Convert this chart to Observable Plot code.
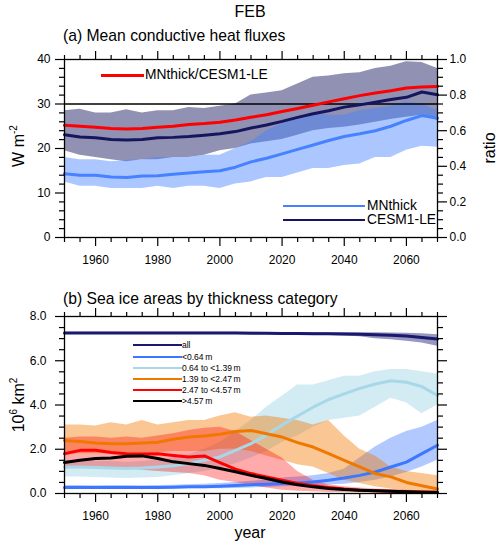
<!DOCTYPE html>
<html><head><meta charset="utf-8">
<script src="https://cdn.jsdelivr.net/npm/d3@7"></script>
<script src="https://cdn.jsdelivr.net/npm/@observablehq/plot@0.6"></script>
<style>
body{margin:0;background:#fff;font-family:"Liberation Sans",Arial,Helvetica,sans-serif;}
#page{position:relative;width:500px;height:549px;overflow:hidden;background:#fff;}
.t{position:absolute;white-space:nowrap;color:#000;line-height:1;}
#page svg{position:absolute;left:0;}
.sw{position:absolute;}
</style></head><body><div id="page"></div>
<script>
// ---------------- data ----------------
const years = [1950,1955,1960,1965,1970,1975,1980,1985,1990,1995,2000,2005,2010,2015,2020,2025,2030,2035,2040,2045,2050,2055,2060,2065,2070];

// panel (a): W m-2
const mnMean = [14.3,14.0,14.0,13.6,13.5,13.8,13.9,14.2,14.5,14.8,15.0,15.8,17.0,17.8,18.8,19.8,20.8,21.8,22.7,23.3,24.0,25.0,26.3,27.4,26.8];
const mnLo   = [12.5,11.5,11.5,11.0,11.0,11.0,11.5,11.0,11.5,11.5,11.0,12.0,12.5,13.5,13.5,14.5,15.5,15.5,16.2,16.5,18.0,18.0,19.6,20.5,20.3];
const mnHi   = [18.0,17.5,17.5,17.0,17.3,17.5,18.0,18.0,18.0,18.5,18.5,20.0,21.5,24.0,25.5,27.0,28.0,27.5,27.5,28.5,29.0,29.5,30.5,30.0,28.5];
const ceMean = [23.1,22.6,22.4,22.0,21.9,22.0,22.4,22.5,22.7,23.0,23.3,23.8,24.6,25.3,26.1,27.0,27.8,28.5,29.3,29.8,30.4,31.0,31.5,32.7,32.1];
const ceLo   = [19.5,18.5,18.0,17.5,17.0,17.5,17.5,18.0,18.0,18.5,19.5,20.0,21.0,21.5,22.0,23.0,24.0,24.5,24.8,25.3,25.9,26.5,27.0,27.5,26.3];
const ceHi   = [28.5,28.8,28.0,28.0,28.7,28.0,28.5,28.5,29.2,29.0,29.5,30.0,32.0,32.5,33.0,34.5,36.0,36.3,36.8,37.0,38.0,38.5,39.5,39.3,38.0];
// ratio MNthick/CESM1-LE (right axis)
const ratio  = [0.63,0.625,0.62,0.613,0.61,0.612,0.62,0.625,0.635,0.64,0.648,0.66,0.675,0.69,0.708,0.725,0.743,0.762,0.78,0.797,0.812,0.825,0.84,0.845,0.848];
const ratioRef = [0.75];

// panel (b): 10^6 km2
const allMean = [7.25,7.25,7.25,7.25,7.25,7.25,7.25,7.25,7.25,7.25,7.25,7.25,7.24,7.24,7.23,7.23,7.22,7.22,7.21,7.2,7.18,7.15,7.12,7.05,6.98];
const allLo   = [7.2,7.2,7.2,7.2,7.2,7.2,7.2,7.2,7.2,7.2,7.2,7.2,7.19,7.18,7.17,7.16,7.15,7.14,7.12,7.08,7.0,6.95,6.88,6.8,6.65];
const allHi   = [7.29,7.29,7.29,7.29,7.29,7.29,7.29,7.29,7.29,7.29,7.29,7.29,7.29,7.28,7.28,7.28,7.28,7.27,7.27,7.26,7.26,7.25,7.24,7.22,7.18];
const blMean  = [0.27,0.27,0.27,0.27,0.27,0.27,0.27,0.28,0.3,0.31,0.33,0.36,0.4,0.42,0.45,0.48,0.52,0.6,0.7,0.82,0.97,1.2,1.42,1.8,2.18];
const blLo    = [0.2,0.2,0.2,0.2,0.2,0.2,0.2,0.2,0.21,0.21,0.22,0.23,0.25,0.27,0.3,0.32,0.35,0.38,0.42,0.5,0.6,0.75,0.95,1.2,1.5];
const blHi    = [0.36,0.36,0.35,0.36,0.36,0.35,0.36,0.37,0.4,0.42,0.45,0.5,0.55,0.6,0.7,0.75,0.8,0.9,1.1,1.6,2.1,2.5,2.8,3.0,3.3];
const lbMean  = [1.2,1.2,1.18,1.15,1.13,1.15,1.2,1.25,1.35,1.5,1.65,1.95,2.25,2.65,3.1,3.5,3.9,4.25,4.5,4.75,4.95,5.1,5.03,4.83,4.43];
const lbLo    = [0.75,0.75,0.72,0.7,0.68,0.7,0.72,0.8,0.9,1.0,1.15,1.35,1.6,1.9,2.3,2.6,3.0,3.3,3.4,3.5,3.9,4.3,4.1,3.6,4.0];
const lbHi    = [1.5,1.5,1.45,1.45,1.4,1.45,1.5,1.6,1.75,2.0,2.3,2.8,3.3,3.9,4.4,4.9,4.9,5.1,5.3,5.3,5.5,5.6,5.6,5.5,5.4];
const orMean  = [2.4,2.35,2.28,2.25,2.25,2.28,2.32,2.45,2.55,2.6,2.68,2.8,2.85,2.7,2.55,2.3,2.1,1.8,1.5,1.2,0.9,0.75,0.5,0.35,0.2];
const orLo    = [1.8,1.8,1.8,1.8,1.8,1.8,1.85,1.9,1.9,1.9,2.0,2.0,1.9,1.7,1.5,1.3,1.2,0.9,0.6,0.45,0.3,0.2,0.1,0.05,0.03];
const orHi    = [3.1,3.1,3.05,3.2,3.1,3.3,3.1,3.2,3.3,3.3,3.5,3.65,3.45,3.5,3.4,3.3,3.1,3.3,2.6,2.0,1.7,1.2,1.0,0.9,0.8];
const rdMean  = [1.8,1.95,1.95,1.85,1.8,1.78,1.8,1.72,1.65,1.7,1.4,1.1,0.9,0.75,0.6,0.45,0.35,0.27,0.2,0.15,0.12,0.1,0.08,0.07,0.06];
const rdLo    = [1.1,1.2,1.2,1.15,1.15,1.05,1.0,0.95,0.9,0.8,0.6,0.5,0.35,0.25,0.15,0.1,0.08,0.05,0.04,0.03,0.02,0.02,0.02,0.02,0.02];
const rdHi    = [2.5,2.55,2.55,2.5,2.55,2.5,2.6,2.7,2.85,2.95,3.0,2.8,2.4,2.0,1.6,1.0,0.6,0.4,0.3,0.25,0.2,0.18,0.15,0.12,0.1];
const bkMean  = [1.4,1.5,1.58,1.6,1.68,1.7,1.58,1.43,1.35,1.27,1.13,0.98,0.82,0.68,0.52,0.4,0.3,0.23,0.18,0.15,0.12,0.1,0.08,0.06,0.05];

// ticks and labels
const xMajor = [1960,1980,2000,2020,2040,2060];
const xMinor = [1950,1955,1965,1970,1975,1985,1990,1995,2005,2010,2015,2025,2030,2035,2045,2050,2055,2065,2070];
const yaMajor = [0,10,20,30,40];
const yaMinor = [2,4,6,8,12,14,16,18,22,24,26,28,32,34,36,38];
const ratioMajor = [0,0.2,0.4,0.6,0.8,1.0];
const ratioMinor = [0.05,0.1,0.15,0.25,0.3,0.35,0.45,0.5,0.55,0.65,0.7,0.75,0.85,0.9,0.95];
const ybMajor = [0,2,4,6,8];
const ybMinor = [0.5,1,1.5,2.5,3,3.5,4.5,5,5.5,6.5,7,7.5];
const catLabels = ["all","<0.64\u2009m","0.64 to <1.39\u2009m","1.39 to <2.47\u2009m","2.47 to <4.57\u2009m",">4.57\u2009m"];
const catColors = ["#191970","#3c78ff","#a8d8e8","#f07800","#ff0000","#000000"];

// ---------------- build ----------------
const page = document.getElementById("page");
const FONT = "'Liberation Sans', Arial, Helvetica, sans-serif";
const ratioMax = 40; // right axis 1.0 corresponds to 40 W m-2

function txt(html, x, baseline, size, anchor) {
  const d = document.createElement("div");
  d.className = "t";
  d.style.fontSize = size + "px";
  d.innerHTML = html;
  d.style.top = (baseline - 0.8465 * size) + "px";
  if (anchor === "middle") { d.style.left = x + "px"; d.style.transform = "translateX(-50%)"; }
  else d.style.left = x + "px";
  page.appendChild(d);
  return d;
}
function vtxt(html, cx, cy, size) {
  const d = document.createElement("div");
  d.className = "t";
  d.style.fontSize = size + "px";
  d.innerHTML = html;
  d.style.left = cx + "px"; d.style.top = cy + "px";
  d.style.transform = "translate(-50%,-50%) rotate(-90deg)";
  page.appendChild(d);
}
function sw(x1, x2, y, w, color) {
  const d = document.createElement("div");
  d.className = "sw";
  d.style.left = x1 + "px"; d.style.width = (x2 - x1) + "px";
  d.style.top = (y - w / 2) + "px"; d.style.height = w + "px";
  d.style.background = color;
  page.appendChild(d);
}

const A = years.map((year, i) => ({year, mnMean: mnMean[i], mnLo: mnLo[i], mnHi: mnHi[i],
  ceMean: ceMean[i], ceLo: ceLo[i], ceHi: ceHi[i], ratio: ratio[i]}));
const B = years.map((year, i) => ({year,
  allMean: allMean[i], allLo: allLo[i], allHi: allHi[i],
  blMean: blMean[i], blLo: blLo[i], blHi: blHi[i],
  lbMean: lbMean[i], lbLo: lbLo[i], lbHi: lbHi[i],
  orMean: orMean[i], orLo: orLo[i], orHi: orHi[i],
  rdMean: rdMean[i], rdLo: rdLo[i], rdHi: rdHi[i],
  bkMean: bkMean[i]}));

const blank = () => "";
function xAxes(labelPad) {
  return [
    Plot.axisX({anchor: "bottom", ticks: xMajor, tickSize: 9, tickPadding: labelPad, tickFormat: d => String(d), label: null, strokeWidth: 1.2, fontSize: 12}),
    Plot.axisX({anchor: "bottom", ticks: xMinor, tickSize: 5, tickFormat: blank, label: null, strokeWidth: 1.2}),
    Plot.axisX({anchor: "top", ticks: xMajor, tickSize: 9, tickFormat: blank, label: null, strokeWidth: 1.2}),
    Plot.axisX({anchor: "top", ticks: xMinor, tickSize: 5, tickFormat: blank, label: null, strokeWidth: 1.2})
  ];
}

const blue = "#4682ff", navy = "#16165e";

const svgA = Plot.plot({
  width: 500, height: 275,
  marginLeft: 64, marginRight: 63, marginTop: 59, marginBottom: 38,
  x: {domain: [1950, 2070], axis: null},
  y: {domain: [0, 40], axis: null},
  style: {fontFamily: FONT, fontSize: "12px", color: "#000", background: "transparent", overflow: "visible"},
  marks: [
    Plot.areaY(A, {x: "year", y1: "ceLo", y2: "ceHi", fill: navy, fillOpacity: 0.47}),
    Plot.areaY(A, {x: "year", y1: "mnLo", y2: "mnHi", fill: blue, fillOpacity: 0.45}),
    Plot.ruleY(ratioRef, {y: d => d * ratioMax, stroke: "#000", strokeWidth: 1.3}),
    Plot.lineY(A, {x: "year", y: "mnMean", stroke: blue, strokeWidth: 3}),
    Plot.lineY(A, {x: "year", y: "ceMean", stroke: navy, strokeWidth: 3}),
    Plot.lineY(A, {x: "year", y: d => d.ratio * ratioMax, stroke: "#ff0000", strokeWidth: 3}),
    ...xAxes(9),
    Plot.axisY({anchor: "left", ticks: yaMajor, tickSize: 9, tickPadding: 5, tickFormat: d => String(d), label: null, strokeWidth: 1.2, fontSize: 12}),
    Plot.axisY({anchor: "left", ticks: yaMinor, tickSize: 5, tickFormat: blank, label: null, strokeWidth: 1.2}),
    Plot.axisY({anchor: "right", ticks: ratioMajor.map(r => r * ratioMax), tickSize: 9, tickPadding: 3, tickFormat: d => (d / ratioMax).toFixed(1), label: null, strokeWidth: 1.2, fontSize: 12}),
    Plot.axisY({anchor: "right", ticks: ratioMinor.map(r => r * ratioMax), tickSize: 5, tickFormat: blank, label: null, strokeWidth: 1.2}),
    Plot.frame({stroke: "#000", strokeWidth: 1.3})
  ]
});
svgA.style.top = "0px";
page.appendChild(svgA);

const svgB = Plot.plot({
  width: 500, height: 269,
  marginLeft: 64, marginRight: 63, marginTop: 36, marginBottom: 56,
  x: {domain: [1950, 2070], axis: null},
  y: {domain: [0, 8], axis: null},
  style: {fontFamily: FONT, fontSize: "12px", color: "#000", background: "transparent", overflow: "visible"},
  marks: [
    Plot.areaY(B, {x: "year", y1: "allLo", y2: "allHi", fill: catColors[0], fillOpacity: 0.45}),
    Plot.areaY(B, {x: "year", y1: "lbLo", y2: "lbHi", fill: catColors[2], fillOpacity: 0.5}),
    Plot.areaY(B, {x: "year", y1: "blLo", y2: "blHi", fill: catColors[1], fillOpacity: 0.4}),
    Plot.areaY(B, {x: "year", y1: "orLo", y2: "orHi", fill: catColors[3], fillOpacity: 0.42}),
    Plot.areaY(B, {x: "year", y1: "rdLo", y2: "rdHi", fill: catColors[4], fillOpacity: 0.33}),
    Plot.lineY(B, {x: "year", y: "allMean", stroke: catColors[0], strokeWidth: 3}),
    Plot.lineY(B, {x: "year", y: "blMean", stroke: catColors[1], strokeWidth: 3}),
    Plot.lineY(B, {x: "year", y: "lbMean", stroke: catColors[2], strokeWidth: 3}),
    Plot.lineY(B, {x: "year", y: "orMean", stroke: catColors[3], strokeWidth: 3}),
    Plot.lineY(B, {x: "year", y: "rdMean", stroke: catColors[4], strokeWidth: 3}),
    Plot.lineY(B, {x: "year", y: "bkMean", stroke: catColors[5], strokeWidth: 3}),
    ...xAxes(9),
    Plot.axisY({anchor: "left", ticks: ybMajor, tickSize: 9, tickPadding: 9, tickFormat: d => d.toFixed(1), label: null, strokeWidth: 1.2, fontSize: 12}),
    Plot.axisY({anchor: "left", ticks: ybMinor, tickSize: 5, tickFormat: blank, label: null, strokeWidth: 1.2}),
    Plot.axisY({anchor: "right", ticks: ybMajor, tickSize: 9, tickFormat: blank, label: null, strokeWidth: 1.2}),
    Plot.axisY({anchor: "right", ticks: ybMinor, tickSize: 5, tickFormat: blank, label: null, strokeWidth: 1.2}),
    Plot.frame({stroke: "#000", strokeWidth: 1.3})
  ]
});
svgB.style.top = "280px";
page.appendChild(svgB);

// titles
txt("FEB", 250, 18, 16, "middle");
txt("(a) Mean conductive heat fluxes", 63, 41, 15.7);
txt("(b) Sea ice areas by thickness category", 63, 304, 15.7);
// axis labels
vtxt('W m<span style="font-size:10px;vertical-align:7px">-2</span>', 18, 146, 16);
vtxt("ratio", 490, 148, 16);
vtxt('10<span style="font-size:10px;vertical-align:7px">6</span> km<span style="font-size:10px;vertical-align:7px">2</span>', 18, 405, 16);
txt("year", 250, 539, 16, "middle");

// legend panel (a)
sw(100.5, 143.5, 75, 3, "#ff0000");
txt("MNthick/CESM1-LE", 145, 80, 13.8);
sw(283, 365, 206, 2, blue);
txt("MNthick", 367, 211, 13.8);
sw(283, 365, 220, 2, navy);
txt("CESM1-LE", 367, 225, 13.8);

// legend panel (b)
const legY = [345.3, 356.7, 367.7, 378.7, 389.7, 400.7];
catLabels.forEach((lab, i) => {
  sw(132.5, 182, legY[i], 2, catColors[i]);
  txt(lab.replace(/</g, "&lt;").replace(/>/g, "&gt;"), 182, legY[i] + 3, 8.5);
});
</script></body></html>
